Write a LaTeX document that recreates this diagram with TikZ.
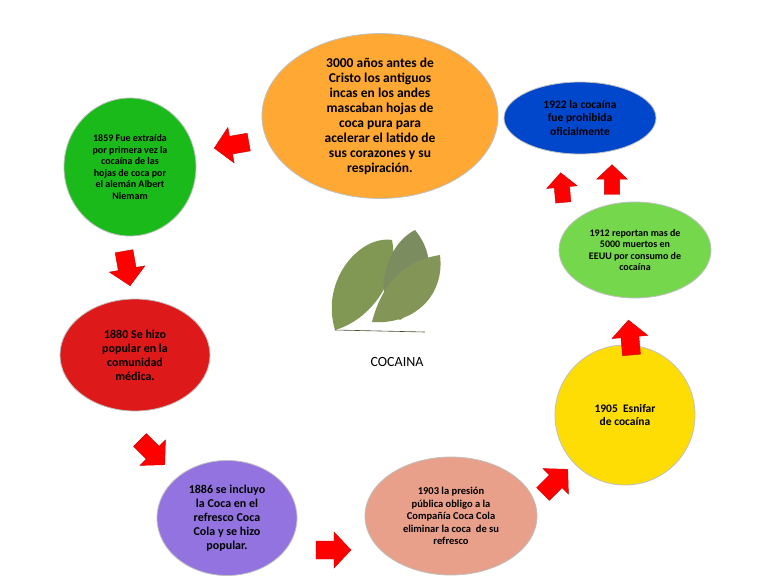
\documentclass[tikz,border=0pt]{standalone}
\usepackage{fontspec}
\setmainfont{Carlito}
\usetikzlibrary{shapes.geometric}
\begin{document}
\begin{tikzpicture}[x=1pt,y=-1pt,
  bub/.style={ellipse,draw=black!25,line width=0.8pt,align=center,font=\bfseries,inner sep=0pt},
  arrowfill/.style={fill=red,draw=red!80!black,line width=0.4pt}]
\useasboundingbox (0,0) rectangle (768,576);
\fill[white] (0,0) rectangle (768,576);
\node[bub,fill=orange!85!yellow!80!white,minimum width=236pt,minimum height=146pt,font=\bfseries\fontsize{13.5}{15}\selectfont] (o) at (380,116)
 {3000 años antes de\\Cristo los antiguos\\incas en los andes\\mascaban hojas de\\coca pura para\\acelerar el latido de\\sus corazones y su\\respiración.};
\node[bub,fill=green!70!black!90!white,minimum width=132pt,minimum height=138pt,font=\bfseries\fontsize{10}{11.5}\selectfont] (g) at (130,167)
 {1859 Fue extraída\\por primera vez la\\cocaína de las\\hojas de coca por\\el alemán Albert\\Niemam};
\node[bub,fill=red!85!black!90!white,minimum width=150pt,minimum height=112pt,font=\bfseries\fontsize{12}{14}\selectfont] (r) at (135,355)
 {1880 Se hizo\\popular en la\\comunidad\\médica.};
\node[bub,fill=violet!45!blue!55!white,minimum width=140pt,minimum height=115pt,font=\bfseries\fontsize{12}{14}\selectfont] (p) at (227,518)
 {1886 se incluyo\\la Coca en el\\refresco Coca\\Cola y se hizo\\popular.};
\node[bub,fill=red!35!brown!55!white,minimum width=172pt,minimum height=118pt,font=\bfseries\fontsize{10.5}{12.5}\selectfont] (k) at (451,516)
 {1903 la presión\\pública obligo a la\\Compañía Coca Cola\\eliminar la coca\ \ de su\\refresco};
\node[bub,fill=yellow!80!orange,minimum width=140pt,minimum height=140pt,font=\bfseries\fontsize{11.5}{13.5}\selectfont] (y) at (625,415)
 {1905\ \ Esnifar\\de cocaína};
\node[bub,fill=green!55!olive!70!white,minimum width=152pt,minimum height=96pt,font=\bfseries\fontsize{10}{11.5}\selectfont] (gr) at (635,250)
 {1912 reportan mas de\\5000 muertos en\\EEUU por consumo de\\cocaína};
\node[bub,fill=blue!65!cyan!80!black,minimum width=152pt,minimum height=72pt,font=\bfseries\fontsize{11.5}{13.5}\selectfont] (b) at (580,118)
 {1922 la cocaína\\fue prohibida\\oficialmente};
% leaves
\fill[olive!55!green!55!gray] (335,330) .. controls (320,280) and (360,235) .. (392,240) .. controls (400,280) and (370,320) .. (335,330);
\fill[olive!50!green!45!gray!90!black] (400,320) .. controls (370,300) and (385,245) .. (415,230) .. controls (440,260) and (430,300) .. (400,320);
\fill[olive!60!green!50!gray] (372,322) .. controls (385,270) and (420,258) .. (440,255) .. controls (445,295) and (415,325) .. (372,322);
\draw[olive!40!black,line width=0.6pt] (335,330) -- (425,332);
\node[font=\fontsize{14}{16}\selectfont] (t) at (397,362) {COCAINA};
% arrows
\foreach \px/\py/\ang/\s in {232/145/190/1, 127/268/-80/1, 152/452/-45/1, 333/550/0/1, 555/482/45/1, 630/338/95/1, 562/188/95/0.85, 612/180/90/0.85}
  \path[arrowfill,shift={(\px,\py)},rotate=\ang,scale=\s]
    (-17,-9) -- (1,-9) -- (1,-18) -- (18,0) -- (1,18) -- (1,9) -- (-17,9) -- cycle;
\end{tikzpicture}
\end{document}
